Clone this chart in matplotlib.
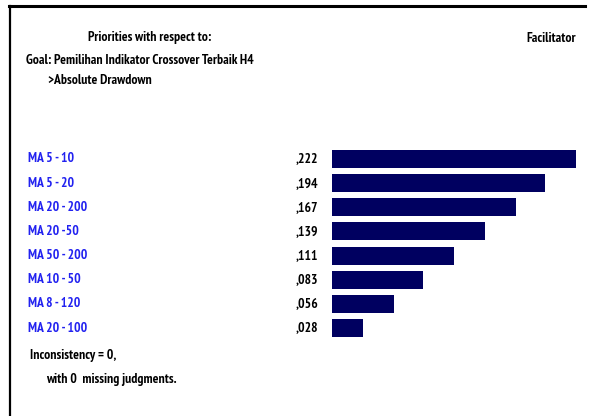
import matplotlib.pyplot as plt
from matplotlib.lines import Line2D
import matplotlib.transforms as mtransforms

labels = ["MA 5 - 10", "MA 5 - 20", "MA 20 - 200", "MA 20 -50",
          "MA 50 - 200", "MA 10 - 50", "MA 8 - 120", "MA 20 - 100"]
values = [0.222, 0.194, 0.167, 0.139, 0.111, 0.083, 0.056, 0.028]
value_text = [",222", ",194", ",167", ",139", ",111", ",083", ",056", ",028"]

W, H = 589, 416
FS = 9.8
plt.rcParams["font.family"] = ["PT Sans Narrow", "DejaVu Sans"]

fig = plt.figure(figsize=(W / 100, H / 100), dpi=100)
fig.patch.set_facecolor("white")

# frame: top and left edges only
fig.add_artist(Line2D([9 / W, 585 / W], [1 - 6 / H, 1 - 6 / H], color="black", lw=2.2,
                      transform=fig.transFigure))
fig.add_artist(Line2D([9.5 / W, 9.5 / W], [0, 1 - 6 / H], color="black", lw=1.6,
                      transform=fig.transFigure))

# bar axes
top, bottom = 146.9, 340.1
ax = fig.add_axes([332 / W, 1 - bottom / H, (W - 332) / W, (bottom - top) / H])
ax.barh(range(len(values)), values, height=0.74, color="#000060")
ax.set_ylim(len(values) - 0.5, -0.5)
ax.set_xlim(0, (W - 332) / 1099)
ax.axis("off")

trans = mtransforms.blended_transform_factory(fig.transFigure, ax.transData)
for i, (lab, vt) in enumerate(zip(labels, value_text)):
    fig.text(28 / W, i, lab, transform=trans, ha="left", va="center",
             color="#2222f0", fontsize=FS, fontweight="bold")
    fig.text(318 / W, i, vt, transform=trans, ha="right", va="center",
             color="black", fontsize=FS, fontweight="bold")

def txt(x, y, s, ha="left"):
    fig.text(x / W, 1 - y / H, s, ha=ha, va="center", fontsize=FS,
             fontweight="bold", color="black")

txt(150, 38, "Priorities with respect to:", ha="center")
txt(26, 61, "Goal: Pemilihan Indikator Crossover Terbaik H4")
txt(48, 80, ">Absolute Drawdown")
txt(576, 38, "Facilitator", ha="right")
txt(30, 355, "Inconsistency = 0,")
txt(46, 379, "with 0  missing judgments.")

fig.savefig("out.png", dpi=100, facecolor="white")
